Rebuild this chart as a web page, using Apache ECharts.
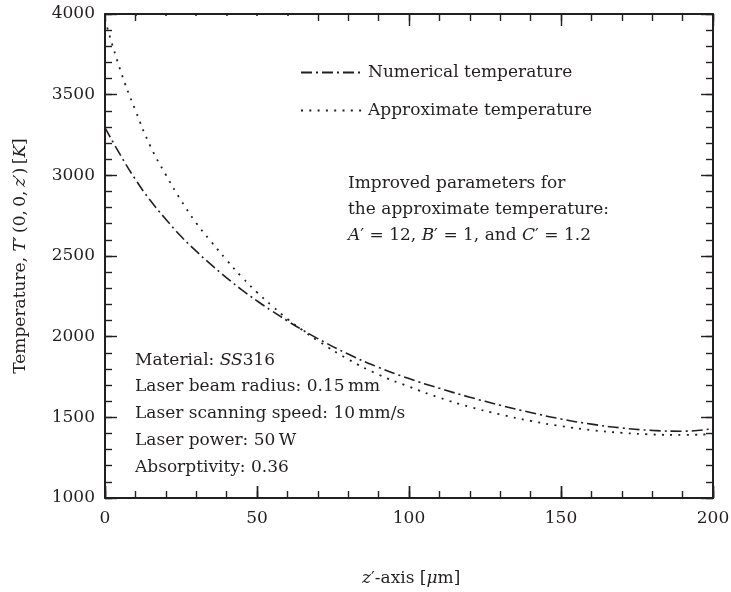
<!DOCTYPE html>
<html>
<head>
<meta charset="utf-8">
<script src="https://cdn.jsdelivr.net/npm/echarts@6/dist/echarts.min.js"></script>
<style>html,body{margin:0;padding:0;background:#fff}#c{width:731px;height:592px}</style>
</head>
<body>
<div id="c"></div>
<script>
// ---- data ----
const zPositions = [0,5,10,15,20,25,30,35,40,45,50,55,60,65,70,80,90,100,110,120,130,140,150,160,170,180,190,200];
const numericalTemp = [3295,3128,2975,2842,2728,2622,2530,2445,2365,2290,2222,2158,2098,2041,1988,1892,1810,1740,1680,1625,1575,1530,1490,1458,1434,1419,1414,1430];
const approximateTemp = [3965,3655,3403,3178,3004,2845,2705,2587,2475,2370,2275,2190,2110,2040,1975,1860,1765,1690,1622,1565,1518,1478,1446,1421,1404,1394,1391,1396];
const seriesNames = ['Numerical temperature','Approximate temperature'];

const INK = '#231f20';
const FONT = 'DejaVu Serif';
const FS = 17;
function richStyles(){
  return {
    n:{fontFamily:FONT,fontSize:FS,color:INK,fontStyle:'normal'},
    i:{fontFamily:FONT,fontSize:FS,color:INK,fontStyle:'italic'}
  };
}
function pairs(xs, ys){ return xs.map((x,k)=>[x, ys[k]]); }

// plot frame geometry
const G = {left:105, right:18, top:14, bottom:94, width:608, height:484};
const pxPerUnit = G.width / 200;

function tickAxis(kind, pos, interval, len, withLine, extra){
  const a = {
    type:'value', position:pos, gridIndex:0,
    min: kind==='x' ? 0 : 1000, max: kind==='x' ? 200 : 4000,
    interval: interval,
    axisLine: withLine ? {show:true,onZero:false,lineStyle:{color:INK,width:2}} : {show:false,onZero:false},
    axisTick:{show:true,inside:true,length:len,lineStyle:{color:INK,width:1.4}},
    minorTick:{show:false},
    splitLine:{show:false},
    axisLabel:{show:false}
  };
  return Object.assign(a, extra || {});
}

// thin strips along the top/bottom edges whose split lines act as x tick marks
const strips = [
  {from:0,   to:200, interval:50, top:G.top+G.height-12, h:12, w:1.4},
  {from:0,   to:200, interval:10, top:G.top+G.height-7,  h:7,  w:1.4},
  {from:100, to:200, interval:50, top:G.top, h:12, w:1.4},
  {from:70,  to:200, interval:10, top:G.top, h:7,  w:1.4},
  {from:0,   to:10,  interval:10, top:G.top, h:7,  w:1.4},
  {from:0,   to:60,  interval:10, top:G.top, h:2,  w:1.6}
];
const grids = [{left:G.left,right:G.right,top:G.top,bottom:G.bottom,containLabel:false,outerBoundsMode:'none'}];
const stripX = [], stripY = [];
strips.forEach((s,k)=>{
  const gi = k+1;
  grids.push({left:G.left + s.from*pxPerUnit, width:(s.to-s.from)*pxPerUnit, top:s.top, height:s.h, containLabel:false, outerBoundsMode:'none'});
  stripX.push({gridIndex:gi, type:'value', min:s.from, max:s.to, interval:s.interval,
    axisLine:{show:false,onZero:false}, axisTick:{show:false}, axisLabel:{show:false},
    splitLine:{show:true, lineStyle:{color:INK,width:s.w,type:'solid'}}});
  stripY.push({gridIndex:gi, type:'value', show:false, min:0, max:1});
});

const chart = echarts.init(document.getElementById('c'), null, {renderer:'canvas'});
chart.setOption({
  animation:false,
  grid:grids,
  title:[
    {
      left:343, top:166,
      text:'{n|Improved parameters for}\n{n|the approximate temperature:}\n{i|A}{n|′ = 12, }{i|B}{n|′ = 1, and }{i|C}{n|′ = 1.2}',
      textStyle:{fontFamily:FONT,fontSize:FS,fontWeight:'normal',color:INK,lineHeight:26,rich:richStyles()}
    },
    {
      left:130, top:342,
      text:'{n|Material: }{i|SS}{n|316}\n{n|Laser beam radius: 0.15\u2009mm}\n{n|Laser scanning speed: 10\u2009mm/s}\n{n|Laser power: 50\u2009W}\n{n|Absorptivity: 0.36}',
      textStyle:{fontFamily:FONT,fontSize:FS,fontWeight:'normal',color:INK,lineHeight:26.7,rich:richStyles()}
    },
    {
      left:357, top:565,
      text:'{i|z}{n|′-axis [}{i|μ}{n|m]}',
      textStyle:{fontFamily:FONT,fontSize:FS,fontWeight:'normal',color:INK,rich:richStyles()}
    }
  ],
  legend:{
    data:seriesNames,
    orient:'vertical',
    left:295, top:59,
    itemWidth:61, itemHeight:14, itemGap:21,
    itemStyle:{opacity:0},
    textStyle:{fontFamily:FONT,fontSize:FS,color:INK,padding:[0,0,0,1]}
  },
  xAxis:[
    tickAxis('x','bottom',50,12,true,{
      axisLabel:{show:true,margin:12,fontFamily:FONT,fontSize:FS,color:INK}
    }),
    tickAxis('x','top',50,12,true,{axisTick:{show:false}})
  ].concat(stripX),
  yAxis:[
    tickAxis('y','left',500,12,true,{
      axisLabel:{show:true,margin:10,fontFamily:FONT,fontSize:FS,color:INK,
        formatter:function(v){ return String(v); }},
      name:'{n|Temperature, }{i|T}{n|′\u2009(0,\u20090,\u2009}{i|z}{n|′)\u2009[}{i|K}{n|]}',
      nameLocation:'middle', nameGap:76,
      nameTextStyle:{fontFamily:FONT,fontSize:FS,color:INK,rich:richStyles()}
    }),
    tickAxis('y','left',100,7,false),
    tickAxis('y','right',500,12,true),
    tickAxis('y','right',100,7,false)
  ].concat(stripY),
  series:[
    {
      name:seriesNames[0], type:'line', xAxisIndex:0, yAxisIndex:0,
      data:pairs(zPositions, numericalTemp),
      symbol:'none', smooth:0.5,
      lineStyle:{color:INK,width:1.6,type:[11,4,2,4]},
      itemStyle:{color:INK}
    },
    {
      name:seriesNames[1], type:'line', xAxisIndex:0, yAxisIndex:0,
      data:pairs(zPositions, approximateTemp),
      symbol:'none', smooth:0.5,
      lineStyle:{color:INK,width:1.8,type:[2,6.3]},
      itemStyle:{color:INK}
    }
  ]
});
</script>
</body>
</html>
